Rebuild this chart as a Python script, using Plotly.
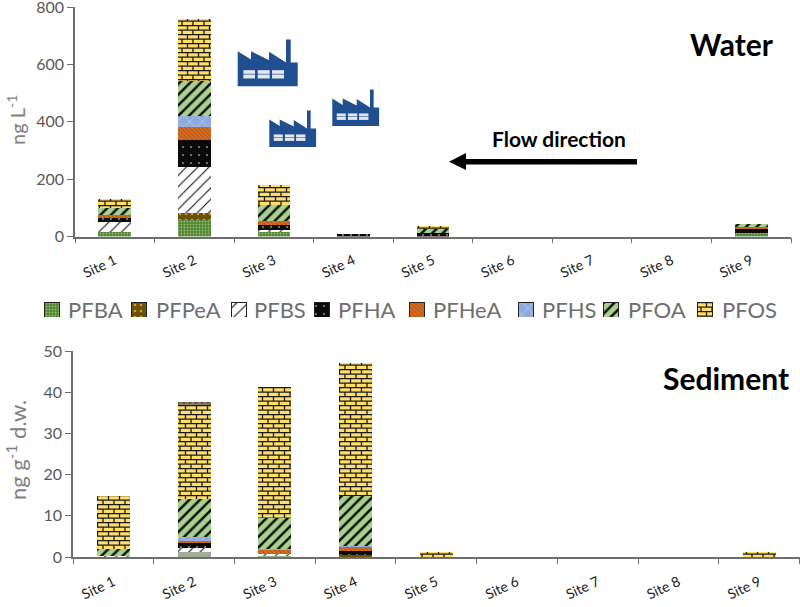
import plotly.graph_objects as go

W, H = 800, 607
sites = [f"Site {i}" for i in range(1, 10)]
species = ["PFBA", "PFPeA", "PFBS", "PFHA", "PFHeA", "PFHS", "PFOA", "PFOS"]

water_PFBA = [14, 58, 14, 0, 0, 0, 0, 0, 12]
water_PFPeA = [0, 23, 0, 0, 0, 0, 0, 0, 0]
water_PFBS = [36, 161, 9, 0, 0, 0, 0, 0, 0]
water_PFHA = [14, 94, 17, 10, 12, 0, 0, 0, 16]
water_PFHeA = [12, 44, 15, 0, 0, 0, 0, 0, 5]
water_PFHS = [0, 39, 0, 0, 0, 0, 0, 0, 0]
water_PFOA = [22, 122, 55, 0, 15, 0, 0, 0, 10]
water_PFOS = [32, 217, 68, 0, 10, 0, 0, 0, 0]

sed_PFBA = [0, 1.3, 0.4, 0, 0, 0, 0, 0, 0]
sed_PFPeA = [0, 0, 0, 0.4, 0, 0, 0, 0, 0]
sed_PFBS = [0.3, 0.8, 0.3, 0, 0, 0, 0, 0, 0]
sed_PFHA = [0, 1.2, 0, 1.1, 0, 0, 0, 0, 0]
sed_PFHeA = [0, 0.7, 1.0, 1.0, 0, 0, 0, 0, 0]
sed_PFHS = [0, 0.9, 0.2, 0.2, 0, 0, 0, 0, 0]
sed_PFOA = [1.6, 9.3, 7.5, 12.1, 0, 0, 0, 0, 0]
sed_PFOS = [13, 22.7, 31.9, 32.2, 1.3, 0, 0, 0, 1.2]
sed_cap = [0, 0.8, 0, 0, 0, 0, 0, 0, 0]

water = [water_PFBA, water_PFPeA, water_PFBS, water_PFHA, water_PFHeA, water_PFHS, water_PFOA, water_PFOS]
sediment = [sed_PFBA, sed_PFPeA, sed_PFBS, sed_PFHA, sed_PFHeA, sed_PFHS, sed_PFOA, sed_PFOS]

styles = {
    "PFBA": ("#548235", "#8FBF6F", ".", 3, 0.3),
    "PFPeA": ("#6B5008", "#C9A227", ".", 6, 0.15),
    "PFBS": ("#FFFFFF", "#111111", "/", 8, 0.14),
    "PFHA": ("#0A0A0A", "#FFFFFF", ".", 8, 0.03),
    "PFHeA": ("#C55A11", "#D97F3E", "\\", 3, 0.3),
    "PFHS": ("#8FAADC", "#DCE6F5", "x", 9, 0.1),
    "PFOA": ("#A9D18E", "#0A0A0A", "/", 7.5, 0.33),
    "PFOS": ("#FFDE6A", "#1A1A1A", "+", 9, 0.15),
}

fig = go.Figure()


def add_bar(name, x, vals, xa, ya, bg=None, width=None, outline=0):
    b, f, sh, sz, so = styles[name]
    fig.add_trace(go.Bar(
        x=x, y=vals, name=name, xaxis=xa, yaxis=ya, showlegend=False, width=width,
        marker=dict(color=bg or b, line=dict(width=outline, color="#222222"),
                    pattern=dict(shape=sh, bgcolor=bg or b, fgcolor=f, size=sz, solidity=so, fillmode="replace")),
    ))


for n, v in zip(species, water):
    add_bar(n, sites, v, "x", "y")
for n, v in zip(species, sediment):
    add_bar(n, sites, v, "x2", "y2", "#A6A6A6" if n == "PFBA" else None)
fig.add_trace(go.Bar(x=sites, y=sed_cap, xaxis="x2", yaxis="y2", showlegend=False, name="Other",
                     marker=dict(color="#8C7B5E", line=dict(width=0),
                                 pattern=dict(shape=".", bgcolor="#8C7B5E", fgcolor="#222222", size=6, solidity=0.3))))

# Legend key: one swatch bar per species on a helper axis measured in page pixels
key_left = [44, 131, 231, 314, 409, 518, 603, 697]
label_left = [67, 155, 253, 337, 432, 541, 627, 721]
for n, k in zip(species, key_left):
    add_bar(n, [k + 7.5], [1], "x3", "y3", width=[15], outline=1)


def px(x):
    return x / W


def py(y):
    return 1 - y / H


def path(points):
    return "M" + " L".join(f"{px(x):.5f},{py(y):.5f}" for x, y in points) + " Z"


shapes = []
BLUE = "#1F4E91"
OUTLINE = [(0, 140), (0, 35), (40, 60), (40, 35), (94, 62), (94, 37), (145, 69), (145, 0), (159, 0),
           (159, 69), (180, 69), (180, 140)]
WINDOWS = [(17, 52), (60, 96), (103, 139)]


def factory(x0, y0, s):
    shapes.append(dict(type="path", xref="paper", yref="paper", line=dict(width=0), fillcolor=BLUE,
                       path=path([(x0 + a * s / 3, y0 + b * s / 3) for a, b in OUTLINE])))
    for a, b in WINDOWS:
        for t, c in ((92, 103), (105, 117)):
            shapes.append(dict(type="path", xref="paper", yref="paper", line=dict(width=0), fillcolor="#E4E6EA",
                               path=path([(x0 + a * s / 3, y0 + t * s / 3), (x0 + b * s / 3, y0 + t * s / 3),
                                          (x0 + b * s / 3, y0 + c * s / 3), (x0 + a * s / 3, y0 + c * s / 3)])))


factory(237.7, 39.5, 1.0)
factory(269.3, 110.5, 0.78)
factory(332.3, 89.5, 0.78)
shapes.append(dict(type="path", xref="paper", yref="paper", line=dict(width=0), fillcolor="#000000",
                   path=path([(637, 159), (466, 159), (466, 153), (449, 161.7), (466, 170), (466, 164.5), (637, 164.5)])))

FONT = "Lato"
GREY = "#595959"
ann = [
    dict(text="<b>Water</b>", x=px(732), y=py(44), size=30, color="#000000"),
    dict(text="<b>Sediment</b>", x=px(726), y=py(378), size=30, color="#000000"),
    dict(text="<b>Flow direction</b>", x=px(558.5), y=py(138), size=21, color="#000000"),
]
annotations = [dict(text=a["text"], x=a["x"], y=a["y"], xref="paper", yref="paper", showarrow=False,
                    xanchor="center", yanchor="middle", font=dict(family=FONT, size=a["size"], color=a["color"]))
               for a in ann]
annotations.append(dict(text="ng L<sup>-1</sup>", x=px(16), y=py(120), xref="paper", yref="paper", showarrow=False,
                        xanchor="center", yanchor="middle",
                        textangle=-90, font=dict(family=FONT, size=20, color="#7F7F7F")))
annotations.append(dict(text="ng g<sup>-1</sup> d.w.", x=px(16), y=py(450), xref="paper", yref="paper", showarrow=False,
                        xanchor="center", yanchor="middle",
                        textangle=-90, font=dict(family=FONT, size=22, color="#7F7F7F")))
for n, l in zip(species, label_left):
    annotations.append(dict(text=n, x=px(l), y=py(309), xref="paper", yref="paper", showarrow=False,
                            xanchor="left", yanchor="middle", xshift=-1,
                            font=dict(family=FONT, size=22, color="#6E6E6E")))

xcommon = dict(type="category", tickson="boundaries", ticks="outside", ticklen=5, tickcolor="#6E6E6E",
               showline=True, linecolor="#6E6E6E", linewidth=1.5, tickangle=-25, showgrid=False, zeroline=False,
               automargin=False, ticklabeloverflow="allow", tickfont=dict(family=FONT, size=14, color="#222222"))
ycommon = dict(ticks="outside", ticklen=6, tickcolor="#6E6E6E", showline=True, linecolor="#6E6E6E", linewidth=1.5,
               showgrid=False, zeroline=False, automargin=False, ticklabeloverflow="allow",
               tickfont=dict(family=FONT, size=16, color=GREY))

fig.update_layout(
    width=W, height=H, autosize=False, margin=dict(l=0, r=0, t=0, b=0), showlegend=False,
    paper_bgcolor="#FFFFFF", plot_bgcolor="#FFFFFF",
    barmode="stack", bargap=0.59,
    xaxis=dict(xcommon, domain=[px(75), px(791)], anchor="y", ticklabelstandoff=9),
    yaxis=dict(ycommon, domain=[py(236.5), py(7)], range=[0, 800], tickvals=[0, 200, 400, 600, 800], anchor="x"),
    xaxis2=dict(xcommon, domain=[px(73), px(799.5)], anchor="y2", ticklabelstandoff=10),
    yaxis2=dict(ycommon, domain=[py(557), py(351)], range=[0, 50], tickvals=[0, 10, 20, 30, 40, 50], anchor="x2"),
    xaxis3=dict(domain=[0, 1], range=[0, W], visible=False, anchor="y3"),
    yaxis3=dict(domain=[py(317), py(302)], range=[0, 1], visible=False, anchor="x3"),
    shapes=shapes, annotations=annotations,
)

# The page keeps no margin round the chart. Plotly has no brick fill, so the PFOS pattern tile ("+") is redrawn.
brick = """
document.body.style.margin = '0';
function brickTiles() {
  document.querySelectorAll('pattern').forEach(function (p) {
    var s = p.querySelector('path');
    if (!s || s.getAttribute('data-brick')) return;
    if ((s.getAttribute('stroke') || s.style.stroke || '').replace(/ /g, '') !== 'rgb(26,26,26)'
        && (s.getAttribute('stroke') || '') !== '#1A1A1A') return;
    p.setAttribute('width', 11); p.setAttribute('height', 9);
    var r = p.querySelector('rect');
    if (r) { r.setAttribute('width', 11); r.setAttribute('height', 9); }
    s.setAttribute('d', 'M0,0.7H11M0,5.2H11M2.5,0.7V5.2M8,5.2V9.7');
    s.setAttribute('stroke-width', 1.3);
    s.style.strokeWidth = '1.3px';
    s.setAttribute('data-brick', '1');
  });
}
brickTiles(); setTimeout(brickTiles, 30); setTimeout(brickTiles, 200);
"""
fig.write_html("out.html", post_script=brick, config=dict(displayModeBar=False))
